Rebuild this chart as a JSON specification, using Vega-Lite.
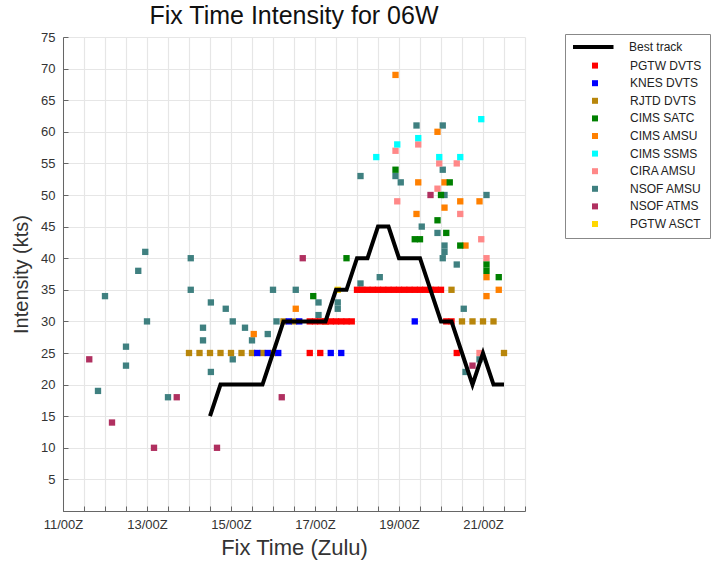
{
  "$schema": "https://vega.github.io/schema/vega-lite/v6.json",
  "autosize": {"type": "none"},
  "padding": {"left": 63, "top": 37, "right": 196, "bottom": 50},
  "width": 462,
  "height": 474,
  "background": "white",
  "config": {
    "view": {"stroke": null},
    "font": "Liberation Sans",
    "axis": {"labelFont": "Liberation Sans", "titleFont": "Liberation Sans", "labelColor": "#333333", "titleColor": "#333333", "titleFontWeight": "normal", "gridColor": "#e6e6e6", "gridWidth": 1.2, "domainColor": "#666666", "tickColor": "#666666"}
  },
  "title": {"text": "Fix Time Intensity for 06W", "fontSize": 25, "fontWeight": "normal", "font": "Liberation Sans", "color": "#111111", "anchor": "middle", "offset": 2},
  "datasets": {
    "fixes": [
      {"source": "PGTW ASCT", "time": "2023-06-17T13:00:00Z", "kts": 35},
      {"source": "NSOF ATMS", "time": "2023-06-11T15:00:00Z", "kts": 24},
      {"source": "NSOF ATMS", "time": "2023-06-12T04:00:00Z", "kts": 14},
      {"source": "NSOF ATMS", "time": "2023-06-13T04:00:00Z", "kts": 10},
      {"source": "NSOF ATMS", "time": "2023-06-13T17:00:00Z", "kts": 18},
      {"source": "NSOF ATMS", "time": "2023-06-14T16:00:00Z", "kts": 10},
      {"source": "NSOF ATMS", "time": "2023-06-16T05:00:00Z", "kts": 18},
      {"source": "NSOF ATMS", "time": "2023-06-16T17:00:00Z", "kts": 40},
      {"source": "NSOF ATMS", "time": "2023-06-19T18:00:00Z", "kts": 50},
      {"source": "NSOF ATMS", "time": "2023-06-20T18:00:00Z", "kts": 23},
      {"source": "NSOF AMSU", "time": "2023-06-11T20:00:00Z", "kts": 19},
      {"source": "NSOF AMSU", "time": "2023-06-12T00:00:00Z", "kts": 34},
      {"source": "NSOF AMSU", "time": "2023-06-12T12:00:00Z", "kts": 26},
      {"source": "NSOF AMSU", "time": "2023-06-12T12:00:00Z", "kts": 23},
      {"source": "NSOF AMSU", "time": "2023-06-12T19:00:00Z", "kts": 38},
      {"source": "NSOF AMSU", "time": "2023-06-12T23:00:00Z", "kts": 41},
      {"source": "NSOF AMSU", "time": "2023-06-13T00:00:00Z", "kts": 30},
      {"source": "NSOF AMSU", "time": "2023-06-13T12:00:00Z", "kts": 18},
      {"source": "NSOF AMSU", "time": "2023-06-14T01:00:00Z", "kts": 40},
      {"source": "NSOF AMSU", "time": "2023-06-14T01:00:00Z", "kts": 35},
      {"source": "NSOF AMSU", "time": "2023-06-14T08:00:00Z", "kts": 29},
      {"source": "NSOF AMSU", "time": "2023-06-14T08:00:00Z", "kts": 27},
      {"source": "NSOF AMSU", "time": "2023-06-14T12:30:00Z", "kts": 33},
      {"source": "NSOF AMSU", "time": "2023-06-14T12:30:00Z", "kts": 22},
      {"source": "NSOF AMSU", "time": "2023-06-14T21:00:00Z", "kts": 32},
      {"source": "NSOF AMSU", "time": "2023-06-15T01:00:00Z", "kts": 30},
      {"source": "NSOF AMSU", "time": "2023-06-15T01:00:00Z", "kts": 24},
      {"source": "NSOF AMSU", "time": "2023-06-15T08:00:00Z", "kts": 29},
      {"source": "NSOF AMSU", "time": "2023-06-15T12:00:00Z", "kts": 27},
      {"source": "NSOF AMSU", "time": "2023-06-15T21:00:00Z", "kts": 28},
      {"source": "NSOF AMSU", "time": "2023-06-16T00:00:00Z", "kts": 35},
      {"source": "NSOF AMSU", "time": "2023-06-16T02:00:00Z", "kts": 30},
      {"source": "NSOF AMSU", "time": "2023-06-16T13:00:00Z", "kts": 35},
      {"source": "NSOF AMSU", "time": "2023-06-17T02:00:00Z", "kts": 33},
      {"source": "NSOF AMSU", "time": "2023-06-17T02:00:00Z", "kts": 31},
      {"source": "NSOF AMSU", "time": "2023-06-17T13:00:00Z", "kts": 33},
      {"source": "NSOF AMSU", "time": "2023-06-17T13:00:00Z", "kts": 32},
      {"source": "NSOF AMSU", "time": "2023-06-18T02:00:00Z", "kts": 53},
      {"source": "NSOF AMSU", "time": "2023-06-18T02:00:00Z", "kts": 36},
      {"source": "NSOF AMSU", "time": "2023-06-18T13:00:00Z", "kts": 37},
      {"source": "NSOF AMSU", "time": "2023-06-18T22:00:00Z", "kts": 53},
      {"source": "NSOF AMSU", "time": "2023-06-19T01:00:00Z", "kts": 52},
      {"source": "NSOF AMSU", "time": "2023-06-19T10:00:00Z", "kts": 61},
      {"source": "NSOF AMSU", "time": "2023-06-19T13:00:00Z", "kts": 45},
      {"source": "NSOF AMSU", "time": "2023-06-19T22:00:00Z", "kts": 44},
      {"source": "NSOF AMSU", "time": "2023-06-20T01:00:00Z", "kts": 61},
      {"source": "NSOF AMSU", "time": "2023-06-20T01:00:00Z", "kts": 54},
      {"source": "NSOF AMSU", "time": "2023-06-20T02:00:00Z", "kts": 50},
      {"source": "NSOF AMSU", "time": "2023-06-20T02:00:00Z", "kts": 42},
      {"source": "NSOF AMSU", "time": "2023-06-20T02:00:00Z", "kts": 41},
      {"source": "NSOF AMSU", "time": "2023-06-20T01:00:00Z", "kts": 40},
      {"source": "NSOF AMSU", "time": "2023-06-20T09:00:00Z", "kts": 39},
      {"source": "NSOF AMSU", "time": "2023-06-20T13:00:00Z", "kts": 32},
      {"source": "NSOF AMSU", "time": "2023-06-20T14:00:00Z", "kts": 22},
      {"source": "NSOF AMSU", "time": "2023-06-20T22:00:00Z", "kts": 24},
      {"source": "NSOF AMSU", "time": "2023-06-21T02:00:00Z", "kts": 50},
      {"source": "CIRA AMSU", "time": "2023-06-18T22:00:00Z", "kts": 57},
      {"source": "CIRA AMSU", "time": "2023-06-18T23:00:00Z", "kts": 49},
      {"source": "CIRA AMSU", "time": "2023-06-19T11:00:00Z", "kts": 58},
      {"source": "CIRA AMSU", "time": "2023-06-19T22:00:00Z", "kts": 51},
      {"source": "CIRA AMSU", "time": "2023-06-19T23:00:00Z", "kts": 55},
      {"source": "CIRA AMSU", "time": "2023-06-20T09:00:00Z", "kts": 55},
      {"source": "CIRA AMSU", "time": "2023-06-20T11:00:00Z", "kts": 47},
      {"source": "CIRA AMSU", "time": "2023-06-20T22:00:00Z", "kts": 25},
      {"source": "CIRA AMSU", "time": "2023-06-20T23:00:00Z", "kts": 43},
      {"source": "CIRA AMSU", "time": "2023-06-21T02:00:00Z", "kts": 40},
      {"source": "CIMS SSMS", "time": "2023-06-18T11:00:00Z", "kts": 56},
      {"source": "CIMS SSMS", "time": "2023-06-18T23:00:00Z", "kts": 58},
      {"source": "CIMS SSMS", "time": "2023-06-19T11:00:00Z", "kts": 59},
      {"source": "CIMS SSMS", "time": "2023-06-19T23:00:00Z", "kts": 56},
      {"source": "CIMS SSMS", "time": "2023-06-20T11:00:00Z", "kts": 56},
      {"source": "CIMS SSMS", "time": "2023-06-20T23:00:00Z", "kts": 62},
      {"source": "CIMS AMSU", "time": "2023-06-15T13:00:00Z", "kts": 28},
      {"source": "CIMS AMSU", "time": "2023-06-16T13:00:00Z", "kts": 32},
      {"source": "CIMS AMSU", "time": "2023-06-18T22:00:00Z", "kts": 69},
      {"source": "CIMS AMSU", "time": "2023-06-19T10:00:00Z", "kts": 47},
      {"source": "CIMS AMSU", "time": "2023-06-19T11:00:00Z", "kts": 52},
      {"source": "CIMS AMSU", "time": "2023-06-19T22:00:00Z", "kts": 60},
      {"source": "CIMS AMSU", "time": "2023-06-20T02:00:00Z", "kts": 52},
      {"source": "CIMS AMSU", "time": "2023-06-20T02:00:00Z", "kts": 48},
      {"source": "CIMS AMSU", "time": "2023-06-20T11:00:00Z", "kts": 49},
      {"source": "CIMS AMSU", "time": "2023-06-20T14:00:00Z", "kts": 42},
      {"source": "CIMS AMSU", "time": "2023-06-20T22:00:00Z", "kts": 49},
      {"source": "CIMS AMSU", "time": "2023-06-21T02:00:00Z", "kts": 37},
      {"source": "CIMS AMSU", "time": "2023-06-21T02:00:00Z", "kts": 34},
      {"source": "CIMS AMSU", "time": "2023-06-21T09:00:00Z", "kts": 35},
      {"source": "CIMS SATC", "time": "2023-06-16T23:00:00Z", "kts": 34},
      {"source": "CIMS SATC", "time": "2023-06-17T18:00:00Z", "kts": 40},
      {"source": "CIMS SATC", "time": "2023-06-18T22:00:00Z", "kts": 54},
      {"source": "CIMS SATC", "time": "2023-06-19T09:00:00Z", "kts": 43},
      {"source": "CIMS SATC", "time": "2023-06-19T12:00:00Z", "kts": 43},
      {"source": "CIMS SATC", "time": "2023-06-19T22:00:00Z", "kts": 46},
      {"source": "CIMS SATC", "time": "2023-06-20T00:00:00Z", "kts": 50},
      {"source": "CIMS SATC", "time": "2023-06-20T03:00:00Z", "kts": 44},
      {"source": "CIMS SATC", "time": "2023-06-20T05:00:00Z", "kts": 52},
      {"source": "CIMS SATC", "time": "2023-06-20T11:00:00Z", "kts": 42},
      {"source": "CIMS SATC", "time": "2023-06-21T02:00:00Z", "kts": 39},
      {"source": "CIMS SATC", "time": "2023-06-21T02:00:00Z", "kts": 38},
      {"source": "CIMS SATC", "time": "2023-06-21T09:00:00Z", "kts": 37},
      {"source": "RJTD DVTS", "time": "2023-06-14T00:00:00Z", "kts": 25},
      {"source": "RJTD DVTS", "time": "2023-06-14T06:00:00Z", "kts": 25},
      {"source": "RJTD DVTS", "time": "2023-06-14T12:00:00Z", "kts": 25},
      {"source": "RJTD DVTS", "time": "2023-06-14T18:00:00Z", "kts": 25},
      {"source": "RJTD DVTS", "time": "2023-06-15T00:00:00Z", "kts": 25},
      {"source": "RJTD DVTS", "time": "2023-06-15T06:00:00Z", "kts": 25},
      {"source": "RJTD DVTS", "time": "2023-06-15T12:00:00Z", "kts": 25},
      {"source": "RJTD DVTS", "time": "2023-06-15T18:00:00Z", "kts": 25},
      {"source": "RJTD DVTS", "time": "2023-06-16T00:00:00Z", "kts": 25},
      {"source": "RJTD DVTS", "time": "2023-06-16T06:00:00Z", "kts": 30},
      {"source": "RJTD DVTS", "time": "2023-06-16T12:00:00Z", "kts": 30},
      {"source": "RJTD DVTS", "time": "2023-06-17T06:00:00Z", "kts": 30},
      {"source": "RJTD DVTS", "time": "2023-06-20T06:00:00Z", "kts": 35},
      {"source": "RJTD DVTS", "time": "2023-06-20T12:00:00Z", "kts": 30},
      {"source": "RJTD DVTS", "time": "2023-06-20T18:00:00Z", "kts": 30},
      {"source": "RJTD DVTS", "time": "2023-06-21T00:00:00Z", "kts": 30},
      {"source": "RJTD DVTS", "time": "2023-06-21T06:00:00Z", "kts": 30},
      {"source": "RJTD DVTS", "time": "2023-06-21T12:00:00Z", "kts": 25},
      {"source": "KNES DVTS", "time": "2023-06-15T15:00:00Z", "kts": 25},
      {"source": "KNES DVTS", "time": "2023-06-15T21:00:00Z", "kts": 25},
      {"source": "KNES DVTS", "time": "2023-06-16T03:00:00Z", "kts": 25},
      {"source": "KNES DVTS", "time": "2023-06-16T09:00:00Z", "kts": 30},
      {"source": "KNES DVTS", "time": "2023-06-16T15:00:00Z", "kts": 30},
      {"source": "KNES DVTS", "time": "2023-06-17T09:00:00Z", "kts": 25},
      {"source": "KNES DVTS", "time": "2023-06-17T15:00:00Z", "kts": 25},
      {"source": "KNES DVTS", "time": "2023-06-19T09:00:00Z", "kts": 30},
      {"source": "PGTW DVTS", "time": "2023-06-16T21:00:00Z", "kts": 25},
      {"source": "PGTW DVTS", "time": "2023-06-17T03:00:00Z", "kts": 25},
      {"source": "PGTW DVTS", "time": "2023-06-16T21:00:00Z", "kts": 30},
      {"source": "PGTW DVTS", "time": "2023-06-17T00:00:00Z", "kts": 30},
      {"source": "PGTW DVTS", "time": "2023-06-17T03:00:00Z", "kts": 30},
      {"source": "PGTW DVTS", "time": "2023-06-17T06:00:00Z", "kts": 30},
      {"source": "PGTW DVTS", "time": "2023-06-17T09:00:00Z", "kts": 30},
      {"source": "PGTW DVTS", "time": "2023-06-17T12:00:00Z", "kts": 30},
      {"source": "PGTW DVTS", "time": "2023-06-17T15:00:00Z", "kts": 30},
      {"source": "PGTW DVTS", "time": "2023-06-17T18:00:00Z", "kts": 30},
      {"source": "PGTW DVTS", "time": "2023-06-17T21:00:00Z", "kts": 30},
      {"source": "PGTW DVTS", "time": "2023-06-18T00:00:00Z", "kts": 35},
      {"source": "PGTW DVTS", "time": "2023-06-18T03:00:00Z", "kts": 35},
      {"source": "PGTW DVTS", "time": "2023-06-18T06:00:00Z", "kts": 35},
      {"source": "PGTW DVTS", "time": "2023-06-18T09:00:00Z", "kts": 35},
      {"source": "PGTW DVTS", "time": "2023-06-18T12:00:00Z", "kts": 35},
      {"source": "PGTW DVTS", "time": "2023-06-18T15:00:00Z", "kts": 35},
      {"source": "PGTW DVTS", "time": "2023-06-18T18:00:00Z", "kts": 35},
      {"source": "PGTW DVTS", "time": "2023-06-18T21:00:00Z", "kts": 35},
      {"source": "PGTW DVTS", "time": "2023-06-19T00:00:00Z", "kts": 35},
      {"source": "PGTW DVTS", "time": "2023-06-19T03:00:00Z", "kts": 35},
      {"source": "PGTW DVTS", "time": "2023-06-19T06:00:00Z", "kts": 35},
      {"source": "PGTW DVTS", "time": "2023-06-19T09:00:00Z", "kts": 35},
      {"source": "PGTW DVTS", "time": "2023-06-19T12:00:00Z", "kts": 35},
      {"source": "PGTW DVTS", "time": "2023-06-19T15:00:00Z", "kts": 35},
      {"source": "PGTW DVTS", "time": "2023-06-19T18:00:00Z", "kts": 35},
      {"source": "PGTW DVTS", "time": "2023-06-19T21:00:00Z", "kts": 35},
      {"source": "PGTW DVTS", "time": "2023-06-20T00:00:00Z", "kts": 35},
      {"source": "PGTW DVTS", "time": "2023-06-20T03:00:00Z", "kts": 30},
      {"source": "PGTW DVTS", "time": "2023-06-20T06:00:00Z", "kts": 30},
      {"source": "PGTW DVTS", "time": "2023-06-20T09:00:00Z", "kts": 25}
    ],
    "best": [
      {"source": "Best track", "time": "2023-06-14T12:00:00Z", "kts": 15},
      {"source": "Best track", "time": "2023-06-14T18:00:00Z", "kts": 20},
      {"source": "Best track", "time": "2023-06-15T00:00:00Z", "kts": 20},
      {"source": "Best track", "time": "2023-06-15T06:00:00Z", "kts": 20},
      {"source": "Best track", "time": "2023-06-15T12:00:00Z", "kts": 20},
      {"source": "Best track", "time": "2023-06-15T18:00:00Z", "kts": 20},
      {"source": "Best track", "time": "2023-06-16T00:00:00Z", "kts": 25},
      {"source": "Best track", "time": "2023-06-16T06:00:00Z", "kts": 30},
      {"source": "Best track", "time": "2023-06-16T12:00:00Z", "kts": 30},
      {"source": "Best track", "time": "2023-06-16T18:00:00Z", "kts": 30},
      {"source": "Best track", "time": "2023-06-17T00:00:00Z", "kts": 30},
      {"source": "Best track", "time": "2023-06-17T06:00:00Z", "kts": 30},
      {"source": "Best track", "time": "2023-06-17T12:00:00Z", "kts": 35},
      {"source": "Best track", "time": "2023-06-17T18:00:00Z", "kts": 35},
      {"source": "Best track", "time": "2023-06-18T00:00:00Z", "kts": 40},
      {"source": "Best track", "time": "2023-06-18T06:00:00Z", "kts": 40},
      {"source": "Best track", "time": "2023-06-18T12:00:00Z", "kts": 45},
      {"source": "Best track", "time": "2023-06-18T18:00:00Z", "kts": 45},
      {"source": "Best track", "time": "2023-06-19T00:00:00Z", "kts": 40},
      {"source": "Best track", "time": "2023-06-19T06:00:00Z", "kts": 40},
      {"source": "Best track", "time": "2023-06-19T12:00:00Z", "kts": 40},
      {"source": "Best track", "time": "2023-06-19T18:00:00Z", "kts": 35},
      {"source": "Best track", "time": "2023-06-20T00:00:00Z", "kts": 30},
      {"source": "Best track", "time": "2023-06-20T06:00:00Z", "kts": 30},
      {"source": "Best track", "time": "2023-06-20T12:00:00Z", "kts": 25},
      {"source": "Best track", "time": "2023-06-20T18:00:00Z", "kts": 20},
      {"source": "Best track", "time": "2023-06-21T00:00:00Z", "kts": 25},
      {"source": "Best track", "time": "2023-06-21T06:00:00Z", "kts": 20},
      {"source": "Best track", "time": "2023-06-21T12:00:00Z", "kts": 20}
    ]
  },
  "encoding": {
    "x": {
      "field": "time", "type": "temporal",
      "scale": {"type": "utc", "domain": [{"year": 2023, "month": 6, "date": 11, "utc": true}, {"year": 2023, "month": 6, "date": 22, "utc": true}], "nice": false},
      "axis": {
        "title": "Fix Time (Zulu)", "titleFontSize": 22, "titlePadding": 6,
        "values": [
          {"year": 2023, "month": 6, "date": 11, "hours": 0, "utc": true}, {"year": 2023, "month": 6, "date": 11, "hours": 12, "utc": true},
          {"year": 2023, "month": 6, "date": 12, "hours": 0, "utc": true}, {"year": 2023, "month": 6, "date": 12, "hours": 12, "utc": true},
          {"year": 2023, "month": 6, "date": 13, "hours": 0, "utc": true}, {"year": 2023, "month": 6, "date": 13, "hours": 12, "utc": true},
          {"year": 2023, "month": 6, "date": 14, "hours": 0, "utc": true}, {"year": 2023, "month": 6, "date": 14, "hours": 12, "utc": true},
          {"year": 2023, "month": 6, "date": 15, "hours": 0, "utc": true}, {"year": 2023, "month": 6, "date": 15, "hours": 12, "utc": true},
          {"year": 2023, "month": 6, "date": 16, "hours": 0, "utc": true}, {"year": 2023, "month": 6, "date": 16, "hours": 12, "utc": true},
          {"year": 2023, "month": 6, "date": 17, "hours": 0, "utc": true}, {"year": 2023, "month": 6, "date": 17, "hours": 12, "utc": true},
          {"year": 2023, "month": 6, "date": 18, "hours": 0, "utc": true}, {"year": 2023, "month": 6, "date": 18, "hours": 12, "utc": true},
          {"year": 2023, "month": 6, "date": 19, "hours": 0, "utc": true}, {"year": 2023, "month": 6, "date": 19, "hours": 12, "utc": true},
          {"year": 2023, "month": 6, "date": 20, "hours": 0, "utc": true}, {"year": 2023, "month": 6, "date": 20, "hours": 12, "utc": true},
          {"year": 2023, "month": 6, "date": 21, "hours": 0, "utc": true}, {"year": 2023, "month": 6, "date": 21, "hours": 12, "utc": true},
          {"year": 2023, "month": 6, "date": 22, "hours": 0, "utc": true}
        ],
        "labelExpr": "utchours(datum.value) == 0 && utcdate(datum.value) % 2 == 1 ? utcFormat(datum.value, '%d/%HZ') : ''",
        "labelFontSize": 13, "labelFlush": false, "labelOverlap": false, "labelBound": false,
        "tickSize": -5, "labelPadding": 12, "grid": true
      }
    },
    "y": {
      "field": "kts", "type": "quantitative",
      "scale": {"domain": [0, 75], "nice": false, "zero": true},
      "axis": {
        "title": "Intensity (kts)", "titleFontSize": 20, "titlePadding": 9,
        "values": [0, 5, 10, 15, 20, 25, 30, 35, 40, 45, 50, 55, 60, 65, 70, 75],
        "labelExpr": "datum.value == 0 ? '' : datum.label",
        "labelFontSize": 13, "labelFlush": false, "labelOverlap": false,
        "tickSize": -5, "labelPadding": 13, "grid": true
      }
    }
  },
  "layer": [
    {
      "data": {"name": "fixes"},
      "mark": {"type": "point", "shape": "square", "filled": true, "size": 40, "opacity": 1},
      "encoding": {
        "color": {
          "field": "source", "type": "nominal",
          "scale": {
            "domain": ["Best track", "PGTW DVTS", "KNES DVTS", "RJTD DVTS", "CIMS SATC", "CIMS AMSU", "CIMS SSMS", "CIRA AMSU", "NSOF AMSU", "NSOF ATMS", "PGTW ASCT"],
            "range": ["transparent", "#ff0000", "#0000ff", "#b8860b", "#008000", "#ff8000", "#00ffff", "#ff8888", "#3f8080", "#b03060", "#ffd700"]
          },
          "legend": {
            "title": null, "orient": "none", "legendX": 502, "legendY": -3,
            "direction": "vertical",
            "strokeColor": "#888888", "padding": 8,
            "labelFont": "Liberation Sans", "labelFontSize": 12, "labelColor": "#222222",
            "labelExpr": "datum.value === 'Best track' ? '' : datum.label",
            "symbolSize": 36, "symbolOffset": 16, "labelOffset": 29, "rowPadding": 5.6,
            "symbolStrokeWidth": 0
          }
        }
      }
    },
    {
      "data": {"name": "best"},
      "mark": {"type": "line", "strokeWidth": 4, "strokeJoin": "miter"},
      "encoding": {
        "stroke": {
          "field": "source", "type": "nominal",
          "scale": {"domain": ["Best track"], "range": ["#000000"]},
          "legend": {
            "title": null, "orient": "none", "legendX": 502, "legendY": -5,
            "direction": "vertical", "padding": 8, "clipHeight": 14,
            "labelFont": "Liberation Sans", "labelFontSize": 12, "labelColor": "#222222",
            "symbolType": "stroke", "symbolSize": 1764, "symbolStrokeWidth": 4, "symbolStrokeColor": "#000000",
            "symbolOffset": -3.5, "labelOffset": 13.5
          }
        }
      }
    }
  ]
}
